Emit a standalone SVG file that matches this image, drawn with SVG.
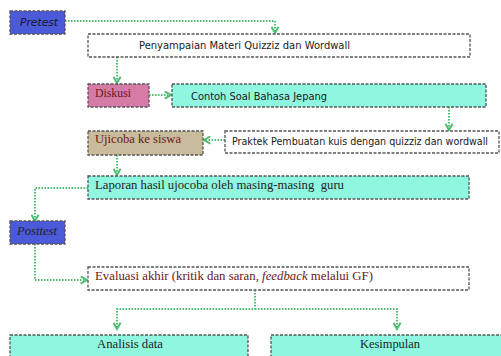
<svg xmlns="http://www.w3.org/2000/svg" width="501" height="356" viewBox="0 0 501 356">
<style>
.box{stroke:#555;stroke-width:1.3;stroke-dasharray:3,1.5}
.c{fill:none;stroke:#4dbf73;stroke-width:2;stroke-dasharray:1.5,1.5}
.comic{font-family:"DejaVu Sans",sans-serif;font-size:10.5px;fill:#1a1a1a}
.ser{font-family:"Liberation Serif",serif;font-size:13px;fill:#222}
.red{fill:#6a1818}
</style>
<defs>
<marker id="ah" viewBox="0 0 10 10" refX="8" refY="5" markerWidth="9" markerHeight="9" markerUnits="userSpaceOnUse" orient="auto">
<polyline points="1,1 8,5 1,9" fill="none" stroke="#4dbf73" stroke-width="2.2"/>
</marker>
</defs>
<rect width="501" height="356" fill="#fff"/>
<g id="connectors">
<polyline class="c" points="65,21 275,21 275,33" marker-end="url(#ah)"/>
<polyline class="c" points="117,57 117,83" marker-end="url(#ah)"/>
<polyline class="c" points="149,95 171,95" marker-end="url(#ah)"/>
<polyline class="c" points="449,107 449,130" marker-end="url(#ah)"/>
<polyline class="c" points="225,140 204,140" marker-end="url(#ah)"/>
<polyline class="c" points="117,155 117,175" marker-end="url(#ah)"/>
<polyline class="c" points="88,188 35,188 35,221" marker-end="url(#ah)"/>
<polyline class="c" points="35,244 35,280 87,280" marker-end="url(#ah)"/>
<polyline class="c" points="255,290 255,309 117,309 117,329" marker-end="url(#ah)"/>
<polyline class="c" points="255,309 397,309 397,329" marker-end="url(#ah)"/>
</g>
<g id="pretest">
<rect class="box" x="10" y="11" width="55" height="23" fill="#4a5ad8"/>
<text class="comic" x="20" y="26" font-style="italic" textLength="38" lengthAdjust="spacingAndGlyphs" fill="#111">Pretest</text>
</g>
<g id="penyampaian">
<rect class="box" x="88" y="34" width="382" height="23" fill="#fff"/>
<text class="comic" x="139" y="49" textLength="211" lengthAdjust="spacingAndGlyphs">Penyampaian Materi Quizziz dan Wordwall</text>
</g>
<g id="diskusi">
<rect class="box" x="88" y="84" width="61" height="23" fill="#d67ba6"/>
<text class="ser red" x="95" y="97" textLength="36" lengthAdjust="spacingAndGlyphs">Diskusi</text>
</g>
<g id="contoh">
<rect class="box" x="172" y="84" width="314" height="23" fill="#8ff7df"/>
<text class="comic" x="191" y="100" textLength="136" lengthAdjust="spacingAndGlyphs">Contoh Soal Bahasa Jepang</text>
</g>
<g id="praktek">
<rect class="box" x="225" y="131" width="274" height="22" fill="#fff"/>
<text class="comic" x="232" y="145" textLength="256" lengthAdjust="spacingAndGlyphs">Praktek Pembuatan kuis dengan quizziz dan wordwall</text>
</g>
<g id="ujicoba">
<rect class="box" x="88" y="131" width="115" height="24" fill="#c8bc9c"/>
<text class="ser red" x="95" y="143" textLength="86" lengthAdjust="spacingAndGlyphs">Ujicoba ke siswa</text>
</g>
<g id="laporan">
<rect class="box" x="88" y="176" width="381" height="23" fill="#8ff7df"/>
<text class="ser" x="95" y="189" textLength="249" lengthAdjust="spacingAndGlyphs" xml:space="preserve">Laporan hasil ujocoba oleh masing-masing  guru</text>
</g>
<g id="posttest">
<rect class="box" x="10" y="221" width="55" height="23" fill="#4a5ad8"/>
<text class="ser" x="17" y="235" font-style="italic" textLength="40" lengthAdjust="spacingAndGlyphs" fill="#1a1a3a">Posttest</text>
</g>
<g id="evaluasi">
<rect class="box" x="88" y="267" width="381" height="23" fill="#fff"/>
<text class="ser red" x="95" y="280" textLength="278" lengthAdjust="spacingAndGlyphs">Evaluasi akhir (kritik dan saran, <tspan font-style="italic">feedback</tspan> melalui GF)</text>
</g>
<g id="analisis">
<rect class="box" x="10" y="335" width="238" height="30" fill="#8ff7df"/>
<text class="ser" x="130" y="348" text-anchor="middle" textLength="66" lengthAdjust="spacingAndGlyphs">Analisis data</text>
</g>
<g id="kesimpulan">
<rect class="box" x="271" y="335" width="240" height="30" fill="#8ff7df"/>
<text class="ser" x="390" y="348" text-anchor="middle" textLength="60" lengthAdjust="spacingAndGlyphs">Kesimpulan</text>
</g>
</svg>
